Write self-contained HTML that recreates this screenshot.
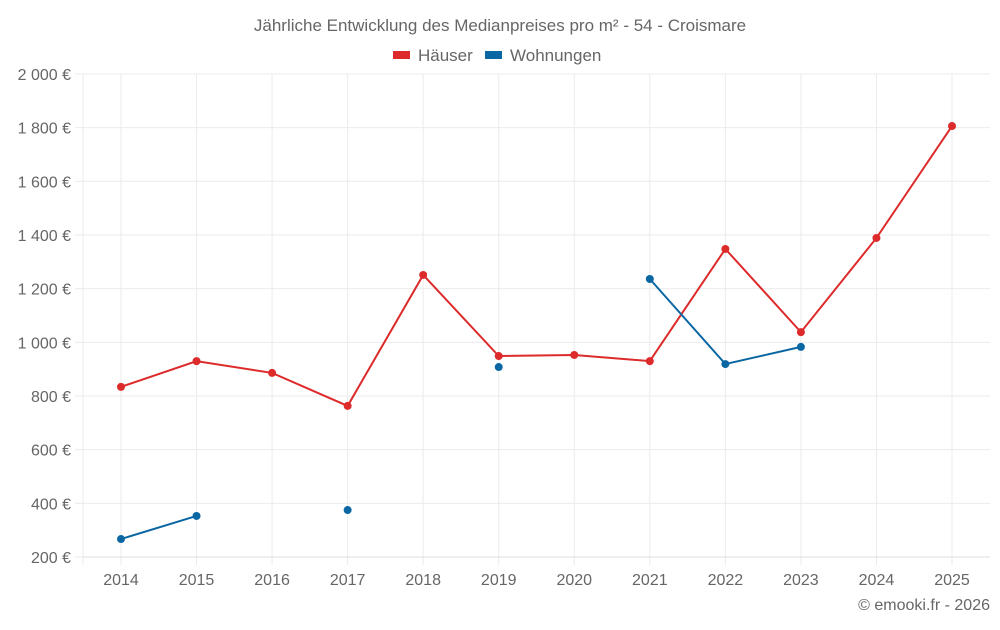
<!DOCTYPE html>
<html><head><meta charset="utf-8"><style>
body{margin:0;background:#fff;font-family:"Liberation Sans",sans-serif;}
svg text{font-family:"Liberation Sans",sans-serif;fill:#666;}
</style></head><body>
<svg id="c" width="1000" height="625">
<text x="500" y="31" text-anchor="middle" font-size="17">Jährliche Entwicklung des Medianpreises pro m² - 54 - Croismare</text>
<g>
<rect x="393" y="51" width="17" height="8" fill="#dd2a2a"/>
<text x="418" y="61" font-size="17">Häuser</text>
<rect x="485" y="51" width="17" height="8" fill="#0a67a3"/>
<text x="510" y="61" font-size="17">Wohnungen</text>
</g>
<g id="grid"></g><g id="axes"></g><g id="series"></g>
<text x="990" y="610" text-anchor="end" font-size="16">© emooki.fr - 2026</text>
</svg>
<script>
const years=[2014,2015,2016,2017,2018,2019,2020,2021,2022,2023,2024,2025];
const haeuser=[834,930,886,763,1251,949,953,930,1348,1038,1389,1806];
const wohnungen=[267,353,null,375,null,908,null,1236,919,983,null,null];
const yTicks=[200,400,600,800,1000,1200,1400,1600,1800,2000];
const yLabels=["200 €","400 €","600 €","800 €","1 000 €","1 200 €","1 400 €","1 600 €","1 800 €","2 000 €"];
const NS="http://www.w3.org/2000/svg";
const L=83,R=990,T=74,B=557;
const x=i=>121+i*(952-121)/(years.length-1);
const y=v=>B-(v-200)/(2000-200)*(B-T);
function mk(tag,attrs,parent){const e=document.createElementNS(NS,tag);for(const k in attrs)e.setAttribute(k,attrs[k]);document.getElementById(parent).appendChild(e);return e;}
yTicks.forEach((t,i)=>{
 const g=mk('line',{x1:75,x2:R,y1:y(t),y2:y(t),stroke:'#ebebeb'},'grid');
 
 
 const tx=mk('text',{x:71,y:y(t)+6,'text-anchor':'end','font-size':16},'axes');
 tx.textContent=yLabels[i];
 
 
});
const lv=mk('line',{x1:L,x2:L,y1:T,y2:B+8,stroke:'#ebebeb'},'grid');


years.forEach((yr,i)=>{
 const g=mk('line',{x1:x(i),x2:x(i),y1:T,y2:B+8,stroke:'#ebebeb'},'grid');
 
 
 const tx=mk('text',{x:x(i),y:585,'text-anchor':'middle','font-size':16},'axes');
 tx.textContent=yr;
 
 
});
const xa=mk('line',{x1:L,x2:R,y1:B,y2:B,stroke:'#ddd'},'axes');


function draw(vals,color,name){
 let seg=[];
 const segs=[];
 vals.forEach((v,i)=>{if(v==null){if(seg.length)segs.push(seg);seg=[];}else seg.push([x(i),y(v)]);});
 if(seg.length)segs.push(seg);
 segs.forEach(s=>{if(s.length>1){
  const p=mk('polyline',{points:s.map(q=>q.join(',')).join(' '),fill:'none',stroke:color,'stroke-width':2},'series');
  
  
 }});
 vals.forEach((v,i)=>{if(v==null)return;
  const c=mk('circle',{cx:x(i),cy:y(v),r:4,fill:color},'series');
  
  
 });
}
draw(haeuser,'#dd2a2a','haeuser');
draw(wohnungen,'#0a67a3','wohnungen');
</script>
</body></html>
